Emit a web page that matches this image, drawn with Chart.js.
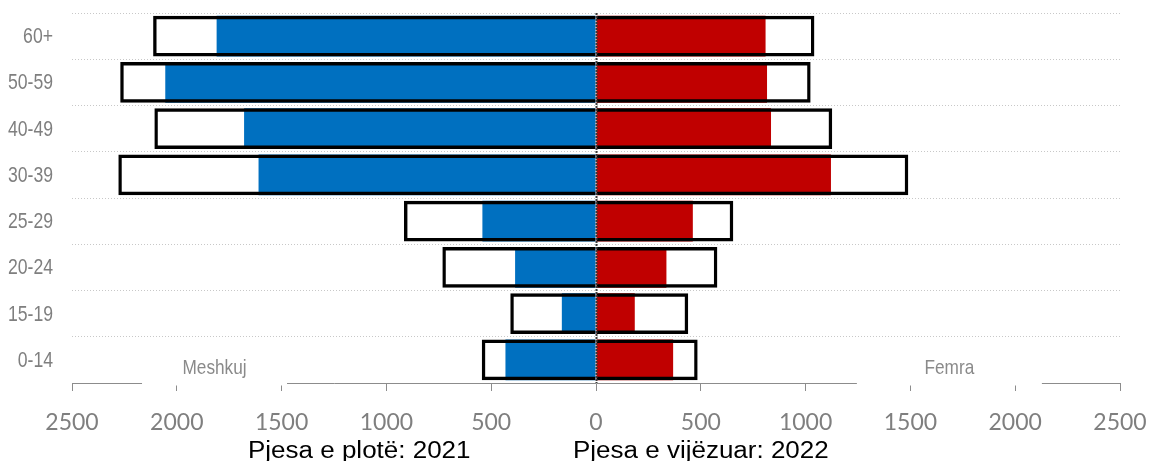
<!DOCTYPE html>
<html>
<head>
<meta charset="utf-8">
<script src="https://cdn.jsdelivr.net/npm/chart.js@4.4.1/dist/chart.umd.min.js"></script>
<style>
  html, body { margin: 0; padding: 0; background: #fff; }
  #wrap { width: 1149px; height: 461px; position: relative; }
</style>
</head>
<body>
<div id="wrap"><canvas id="pyramid"></canvas></div>
<script>
/* DATA */
const ageGroups = ["60+", "50-59", "40-49", "30-39", "25-29", "20-24", "15-19", "0-14"];
const males2021 = [1810, 2055, 1679, 1610, 542, 386, 163, 432];
const females2021 = [809, 816, 835, 1121, 462, 336, 185, 368];
const males2022 = [2113, 2270, 2107, 2279, 916, 733, 409, 545];
const females2022 = [1042, 1024, 1127, 1490, 655, 579, 440, 485];
const xTicks = [-2500, -2000, -1500, -1000, -500, 0, 500, 1000, 1500, 2000, 2500];
const sideLabels = ["Meshkuj", "Femra"];
const legendTexts = ["Pjesa e plotë: 2021", "Pjesa e vijëzuar: 2022"];

const neg = arr => arr.map(v => -v);
const GREY = "#7f7f7f";
const SANS = "'Liberation Sans', Arial, sans-serif";

/* draw text squeezed or stretched sideways (no narrow font installed) */
function drawScaledText(ctx, text, x, y, sx) {
  ctx.save();
  ctx.translate(x, y);
  ctx.scale(sx, 1);
  ctx.fillText(text, 0, 0);
  ctx.restore();
}

/* zero line on top of the bars */
const zeroLine = {
  id: "zeroLine",
  afterDatasetsDraw(chart) {
    const { ctx, chartArea, scales } = chart;
    const x = Math.round(scales.x.getPixelForValue(0)) + 0.5;
    ctx.save();
    ctx.strokeStyle = "#3a3a3a";
    ctx.lineWidth = 2;
    ctx.setLineDash([2, 1]);
    ctx.beginPath();
    ctx.moveTo(x, chartArea.top);
    ctx.lineTo(x, chartArea.bottom);
    ctx.stroke();
    ctx.restore();
  }
};

/* age labels, Meshkuj / Femra boxes and the bottom legend lines */
const extraText = {
  id: "extraText",
  afterDraw(chart) {
    const { ctx, chartArea, scales } = chart;
    ctx.save();

    // age group labels
    ctx.fillStyle = GREY;
    ctx.font = "21.5px " + SANS;
    ctx.textAlign = "right";
    ctx.textBaseline = "middle";
    ageGroups.forEach((g, i) => {
      drawScaledText(ctx, g, chartArea.left - 19, scales.y.getPixelForTick(i) + 1, 0.82);
    });

    const boxes = [
      { text: sideLabels[0], at: -1820, w: 145 },
      { text: sideLabels[1], at: 1686, w: 185 }
    ];
    boxes.forEach(b => {
      const cx = scales.x.getPixelForValue(b.at);
      ctx.fillStyle = "#fff";
      ctx.fillRect(cx - b.w / 2, chartArea.bottom - 28, b.w, 30.5);
      ctx.fillStyle = "#8a8a8a";
      ctx.font = "21px " + SANS;
      ctx.textAlign = "center";
      ctx.textBaseline = "alphabetic";
      drawScaledText(ctx, b.text, cx, chartArea.bottom - 9, 0.82);
    });

    ctx.fillStyle = "#000";
    ctx.font = "23px " + SANS;
    ctx.textAlign = "left";
    ctx.textBaseline = "alphabetic";
    drawScaledText(ctx, legendTexts[0], 248, 458, 1.13);
    drawScaledText(ctx, legendTexts[1], 573, 458, 1.13);
    ctx.restore();
  }
};

const barBase = { grouped: false, categoryPercentage: 1, barPercentage: 0.88 };

new Chart(document.getElementById("pyramid"), {
  type: "bar",
  data: {
    labels: ageGroups,
    datasets: [
      { ...barBase, label: "Meshkuj 2022", data: neg(males2022), backgroundColor: "rgba(0,0,0,0)", borderColor: "#000", borderWidth: 3.4 },
      { ...barBase, label: "Femra 2022", data: females2022, backgroundColor: "rgba(0,0,0,0)", borderColor: "#000", borderWidth: 3.4 },
      { ...barBase, label: "Meshkuj 2021", data: neg(males2021), backgroundColor: "#0070C0", borderWidth: 0 },
      { ...barBase, label: "Femra 2021", data: females2021, backgroundColor: "#C00000", borderWidth: 0 }
    ]
  },
  options: {
    indexAxis: "y",
    responsive: true,
    maintainAspectRatio: false,
    animation: false,
    layout: { padding: { top: 13, right: 29, left: 0, bottom: 0 } },
    plugins: {
      legend: { display: false },
      tooltip: { enabled: false }
    },
    scales: {
      x: {
        type: "linear",
        min: xTicks[0],
        max: xTicks[xTicks.length - 1],
        afterBuildTicks: scale => { scale.ticks = xTicks.map(v => ({ value: v })); },
        afterFit: scale => {
          scale.height = 78;
          scale.paddingLeft = 0;
          scale.paddingRight = 0;
        },
        ticks: {
          color: GREY,
          font: { family: "Lato, 'Open Sans', sans-serif", size: 23 },
          padding: 18,
          maxRotation: 0,
          autoSkip: false,
          callback: v => Math.abs(v)
        },
        grid: {
          drawOnChartArea: false,
          drawTicks: true,
          tickLength: 8,
          color: "#8c8c8c"
        },
        border: { display: true, color: "#8c8c8c", width: 1 }
      },
      y: {
        afterFit: scale => {
          scale.width = 72;
          scale.paddingTop = 0;
          scale.paddingBottom = 0;
        },
        ticks: { display: false },
        grid: {
          offset: true,
          drawTicks: false,
          color: "#c8c8c8",
          lineWidth: 1
        },
        border: { display: false, dash: [1, 2] }
      }
    }
  },
  plugins: [zeroLine, extraText]
});
</script>
</body>
</html>
